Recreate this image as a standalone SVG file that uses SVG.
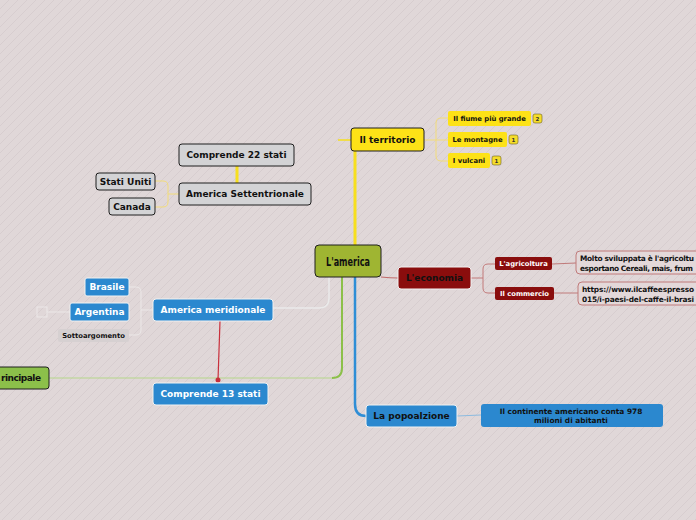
<svg xmlns="http://www.w3.org/2000/svg" width="696" height="520" viewBox="0 0 696 520">
<defs>
<pattern id="bg" width="9" height="9" patternUnits="userSpaceOnUse">
<rect width="9" height="9" fill="#e0d7d8"/>
<path d="M-1,10 L10,-1" stroke="#d3c9cb" stroke-width="0.7"/>
</pattern>
<style>
text{font-family:"DejaVu Sans",Verdana,sans-serif;font-weight:bold;text-anchor:middle;dominant-baseline:central}
.dk{stroke:#1e1e1e;stroke-width:1}
.lt{stroke:#f2f2f2;stroke-width:1}
.t9{font-size:9px;fill:#111}
.w9{font-size:9px;fill:#fff}
.s7{font-size:6.8px;fill:#111}
.n7{font-size:7.4px;fill:#111}
.w7{font-size:6.8px;fill:#fff}
.badge{fill:#f5dd2a;stroke:#6b6020;stroke-width:0.6}
.bt{font-size:5.5px;fill:#333}
.c{fill:none}
</style>
</defs>
<rect width="696" height="520" fill="url(#bg)"/>

<g id="connectors" class="c">
<!-- territorio -->
<path d="M355,245 V151" stroke="#f7df1e" stroke-width="3"/>
<path d="M338,140 H351" stroke="#f7df1e" stroke-width="1.5"/>
<path d="M424,140 H436 M448,118 H441 Q436,118 436,123 V156 Q436,161 441,161 H448 M436,140 H448" stroke="#f2dc7a" stroke-width="1"/>
<!-- settentrionale -->
<path d="M237,166 V183" stroke="#f7df1e" stroke-width="3"/>
<path d="M179,194 H168 M155,181 H163 Q168,181 168,186 V202 Q168,207 163,207 H155" stroke="#f2dc7a" stroke-width="1"/>
<!-- economia -->
<path d="M381,277 Q390,278 398,278" stroke="#c06a6a" stroke-width="1.2"/>
<path d="M471,278 H483 M495,264 H488 Q483,264 483,269 V288 Q483,293 488,293 H495" stroke="#c27a7a" stroke-width="1"/>
<path d="M552,264 L576,263 M554,293 H578" stroke="#c07a7a" stroke-width="1"/>
<!-- popolazione -->
<path d="M355,277 V404 Q355,416 366,416" stroke="#2f8ed6" stroke-width="2.5"/>
<path d="M457,416 L481,415" stroke="#8cbbe0" stroke-width="1"/>
<!-- principale -->
<path d="M342,277 V368 Q342,378 332,378" stroke="#8cc04a" stroke-width="2"/>
<path d="M332,378 H49" stroke="#b5d68a" stroke-width="1"/>
<!-- meridionale -->
<path d="M329,277 V298 Q329,308 319,308 H273" stroke="#eaeaea" stroke-width="1.5"/>
<path d="M153,310 H141 M129,287 H136 Q141,287 141,292 V330 Q141,335 136,335 H129" stroke="#ece8e8" stroke-width="1"/>
<path d="M70,312 H47" stroke="#ece8e8" stroke-width="1"/>
<rect x="37" y="307" width="10" height="10" stroke="#ece8e8" stroke-width="1"/>
<path d="M220,321 L218,380" stroke="#c8303c" stroke-width="1.2"/>
<circle cx="218" cy="380" r="2.5" fill="#c8303c"/>
</g>

<g id="center">
<rect x="315" y="245" width="66" height="32" rx="4" fill="#9fb532" class="dk"/>
<text x="348" y="261.5" textLength="44" lengthAdjust="spacingAndGlyphs" style="font-family:'DejaVu Sans Condensed','DejaVu Sans',sans-serif;font-size:13px;fill:#111">L'america</text>
</g>

<g id="territorio">
<rect x="351" y="128" width="73" height="23" rx="3" fill="#fde217" class="dk"/>
<text x="387.5" y="140" class="t9">Il territorio</text>
</g>
<g id="fiume">
<rect x="448" y="111" width="83" height="15" rx="2" fill="#fde217"/>
<text x="489.5" y="118.5" class="s7">Il fiume più grande</text>
<rect x="533" y="114" width="9" height="9" rx="2" class="badge"/>
<text x="537.5" y="118.5" class="bt">2</text>
</g>
<g id="montagne">
<rect x="448" y="132" width="59" height="15" rx="2" fill="#fde217"/>
<text x="477.5" y="139.5" class="s7">Le montagne</text>
<rect x="509" y="135" width="9" height="9" rx="2" class="badge"/>
<text x="513.5" y="139.5" class="bt">1</text>
</g>
<g id="vulcani">
<rect x="448" y="153" width="42" height="15" rx="2" fill="#fde217"/>
<text x="469" y="160.5" class="s7">I vulcani</text>
<rect x="492" y="156" width="9" height="9" rx="2" class="badge"/>
<text x="496.5" y="160.5" class="bt">1</text>
</g>

<g id="comprende22">
<rect x="179" y="144" width="115" height="22" rx="3" fill="#d3d3d5" class="dk"/>
<text x="236.5" y="155" class="t9">Comprende 22 stati</text>
</g>
<g id="settentrionale">
<rect x="179" y="183" width="132" height="22" rx="3" fill="#d3d3d5" class="dk"/>
<text x="245" y="194" class="t9">America Settentrionale</text>
</g>
<g id="statiuniti">
<rect x="96" y="173" width="59" height="17" rx="3" fill="#d3d3d5" class="dk"/>
<text x="125.5" y="181.5" class="t9">Stati Uniti</text>
</g>
<g id="canada">
<rect x="109" y="198" width="46" height="17" rx="3" fill="#d3d3d5" class="dk"/>
<text x="132" y="206.5" class="t9">Canada</text>
</g>

<g id="economia">
<rect x="398" y="267" width="73" height="22" rx="3" fill="#8a0d0d" class="lt"/>
<text x="434.5" y="278" class="t9">L'economia</text>
</g>
<g id="agricoltura">
<rect x="495" y="257" width="57" height="13" rx="2" fill="#8a0d0d"/>
<text x="523.5" y="263.5" class="w7">L'agricoltura</text>
</g>
<g id="commercio">
<rect x="495" y="287" width="59" height="13" rx="2" fill="#8a0d0d"/>
<text x="524.5" y="293.5" class="w7">Il commercio</text>
</g>
<g id="agricoltura-nota">
<rect x="576" y="251" width="140" height="23" rx="4" fill="#e3d8d9" stroke="#c07a7a" stroke-width="1"/>
<text x="580" y="258.5" class="n7" style="text-anchor:start" textLength="114" lengthAdjust="spacing">Molto sviluppata è l'agricoltu</text>
<text x="580" y="268" class="n7" style="text-anchor:start" textLength="113" lengthAdjust="spacing">esportano Cereali, mais, frum</text>
</g>
<g id="commercio-nota">
<rect x="578" y="282" width="140" height="23" rx="4" fill="#e3d8d9" stroke="#c07a7a" stroke-width="1"/>
<text x="582" y="289.5" class="n7" style="text-anchor:start" textLength="112" lengthAdjust="spacing">https://www.ilcaffeespresso</text>
<text x="582" y="299" class="n7" style="text-anchor:start" textLength="112" lengthAdjust="spacing">015/i-paesi-del-caffe-il-brasi</text>
</g>

<g id="popolazione">
<rect x="366" y="405" width="91" height="22" rx="3" fill="#2b88cf" class="lt"/>
<text x="411.5" y="416" class="t9">La popoalzione</text>
</g>
<g id="popolazione-nota">
<rect x="481" y="404" width="182" height="23" rx="3" fill="#2b88cf"/>
<text x="571" y="411.5" class="n7">Il continente americano conta 978</text>
<text x="571" y="420" class="n7">milioni di abitanti</text>
</g>

<g id="principale">
<rect x="-25" y="367" width="74" height="22" rx="3" fill="#8cc04a" class="dk"/>
<text x="1" y="378" class="t9" style="text-anchor:start" textLength="40" lengthAdjust="spacing">rincipale</text>
</g>

<g id="meridionale">
<rect x="153" y="299" width="120" height="22" rx="3" fill="#2b88cf" class="lt"/>
<text x="213" y="310" class="w9">America meridionale</text>
</g>
<g id="brasile">
<rect x="85" y="278" width="44" height="18" rx="2" fill="#2b88cf" class="lt"/>
<text x="107" y="287" class="w9">Brasile</text>
</g>
<g id="argentina">
<rect x="70" y="303" width="59" height="18" rx="2" fill="#2b88cf" class="lt"/>
<text x="99.5" y="312" class="w9">Argentina</text>
</g>
<g id="sottoargomento">
<rect x="58" y="329" width="71" height="13" rx="2" fill="#d6d0d1"/>
<text x="93.5" y="335.5" class="s7">Sottoargomento</text>
</g>
<g id="comprende13">
<rect x="153" y="383" width="115" height="22" rx="3" fill="#2b88cf" class="lt"/>
<text x="210.5" y="394" class="w9">Comprende 13 stati</text>
</g>
</svg>
